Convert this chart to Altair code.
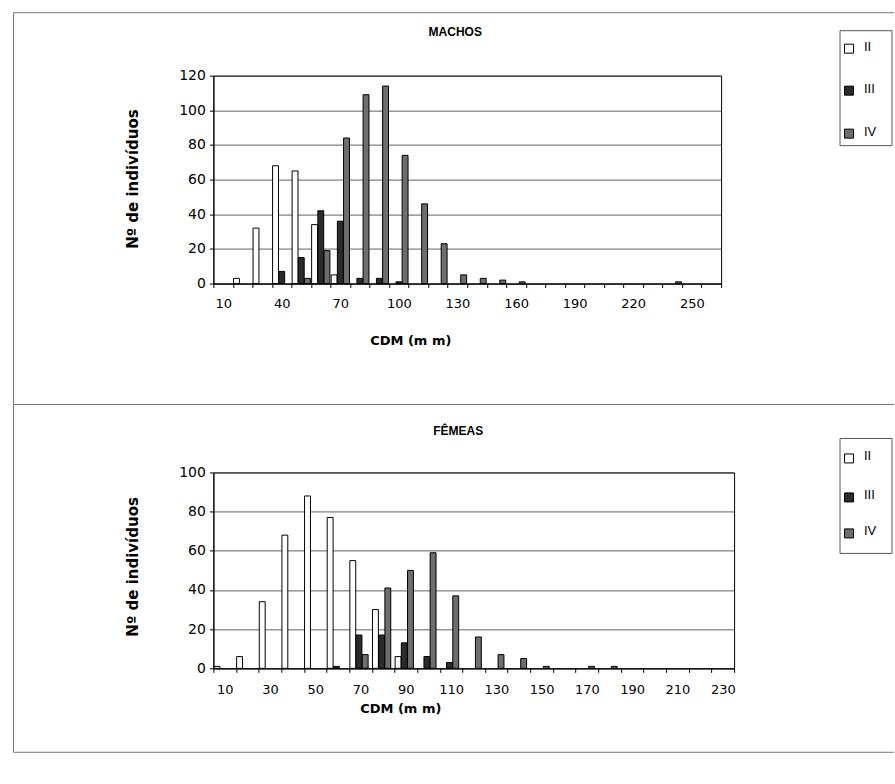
import altair as alt
import pandas as pd

# ---------------- data ----------------
STAGES = ["II", "III", "IV"]
STAGE_FILL = ["#ffffff", "#2b2b2b", "#6e6e6e"]

# MACHOS (males) - CDM classes 10..260 mm
m_cdm = [10, 20, 30, 40, 50, 60, 70, 80, 90, 100, 110, 120, 130,
         140, 150, 160, 170, 180, 190, 200, 210, 220, 230, 240, 250, 260]
m_II  = [0, 3, 32, 68, 65, 34, 5, 0, 0, 0, 0, 0, 0,
         0, 0, 0, 0, 0, 0, 0, 0, 0, 0, 0, 0, 0]
m_III = [0, 0, 0, 7, 15, 42, 36, 3, 3, 1, 0, 0, 0,
         0, 0, 0, 0, 0, 0, 0, 0, 0, 0, 0, 0, 0]
m_IV  = [0, 0, 0, 0, 3, 19, 84, 109, 114, 74, 46, 23, 5,
         3, 2, 1, 0, 0, 0, 0, 0, 0, 0, 1, 0, 0]

# FÊMEAS (females) - CDM classes 10..230 mm
f_cdm = [10, 20, 30, 40, 50, 60, 70, 80, 90, 100, 110, 120,
         130, 140, 150, 160, 170, 180, 190, 200, 210, 220, 230]
f_II  = [1, 6, 34, 68, 88, 77, 55, 30, 6, 0, 0, 0,
         0, 0, 0, 0, 0, 0, 0, 0, 0, 0, 0]
f_III = [0, 0, 0, 0, 0, 1, 17, 17, 13, 6, 3, 0,
         0, 0, 0, 0, 0, 0, 0, 0, 0, 0, 0]
f_IV  = [0, 0, 0, 0, 0, 0, 7, 41, 50, 59, 37, 16,
         7, 5, 1, 0, 1, 1, 0, 0, 0, 0, 0]

Y_TITLE = "Nº de indivíduos"
X_TITLE = "CDM (m m)"


def long_table(cdm, II, III, IV):
    rows = []
    for name, vals in zip(STAGES, [II, III, IV]):
        for c, v in zip(cdm, vals):
            if v > 0:
                rows.append({"cdm": c, "estagio": name, "n": v})
    return pd.DataFrame(rows)


one = alt.Data(values=[{"k": 1}])
BORDER = "#777777"


def hrule(x1, x2, y, color=BORDER):
    return alt.Chart(one).mark_rule(color=color, strokeWidth=1).encode(
        x=alt.value(x1), x2=alt.value(x2), y=alt.value(y))


def vrule(x, y1, y2, color=BORDER):
    return alt.Chart(one).mark_rule(color=color, strokeWidth=1).encode(
        x=alt.value(x), y=alt.value(y1), y2=alt.value(y2))


def text(x, y, s, size=12, bold=False, align="center", font="Liberation Sans"):
    return alt.Chart(one).mark_text(
        font=font, fontSize=size, fontWeight="bold" if bold else "normal",
        align=align, baseline="middle", color="black").encode(
        x=alt.value(x), y=alt.value(y), text=alt.value(s))


def box(x1, x2, y1, y2, fill, stroke="black"):
    return alt.Chart(one).mark_rect(fill=fill, stroke=stroke, strokeWidth=1).encode(
        x=alt.value(x1), x2=alt.value(x2), y=alt.value(y1), y2=alt.value(y2))


def panel(cdm, II, III, IV, width, height, ymax, label_every, title, title_xy,
          xtitle_xy, ytitle_xy, label_pad, legend_y, extra):
    df = long_table(cdm, II, III, IV)
    step = 10 * label_every
    bars = alt.Chart(df).mark_bar(stroke="black", strokeWidth=1).encode(
        x=alt.X("cdm:O", scale=alt.Scale(domain=cdm, paddingInner=0, paddingOuter=0),
                axis=alt.Axis(title=X_TITLE, labelAngle=0, tickBand="extent",
                              labelExpr=f"(datum.value - 10) % {step} == 0 ? datum.label : ''",
                              labelFont="DejaVu Sans", labelFontSize=13, labelColor="black",
                              labelPadding=label_pad, tickSize=4, tickColor="black",
                              domainColor="black", titleFont="DejaVu Sans",
                              titleFontSize=13, titleFontWeight="bold", titleColor="black",
                              titleX=xtitle_xy[0], titleY=xtitle_xy[1],
                              titleAlign="center", titleBaseline="middle")),
        xOffset=alt.XOffset("estagio:N", scale=alt.Scale(domain=STAGES, paddingInner=0.05,
                                                         paddingOuter=0.1)),
        y=alt.Y("n:Q", scale=alt.Scale(domain=[0, ymax], nice=False),
                axis=alt.Axis(title=Y_TITLE, values=list(range(0, ymax + 1, 20)),
                              labelFont="DejaVu Sans", labelFontSize=14, labelColor="black",
                              labelPadding=4, tickSize=4, tickColor="black",
                              domainColor="black", grid=True, gridColor="#3a3a3a",
                              gridWidth=0.8, titleFont="DejaVu Sans", titleFontSize=15,
                              titleFontWeight="bold", titleColor="black",
                              titleX=ytitle_xy[0], titleY=ytitle_xy[1], titleAngle=270,
                              titleAlign="center", titleBaseline="middle")),
        color=alt.Color("estagio:N", scale=alt.Scale(domain=STAGES, range=STAGE_FILL),
                        legend=None),
    )
    ly = legend_y
    layers = [
        bars,
        text(title_xy[0], title_xy[1], title, size=12, bold=True),
        box(627, 679, ly[0], ly[1], "white", stroke="#555555"),
    ]
    for i, (name, fill) in enumerate(zip(STAGES, STAGE_FILL)):
        cy = ly[2 + i]
        layers.append(box(631.5, 640.5, cy - 4.5, cy + 4.5, fill))
        layers.append(text(651, cy - 2, name, size=13, align="left"))
    layers += extra
    return alt.layer(*layers).properties(width=width, height=height)


top = panel(
    m_cdm, m_II, m_III, m_IV, width=508, height=208, ymax=120, label_every=3,
    title="MACHOS", title_xy=(242, -44), xtitle_xy=(197, 57), ytitle_xy=(-81, 103),
    label_pad=10, legend_y=(-45, 70, -27, 15, 58),
    extra=[hrule(-200, 681, -63), vrule(-200, -63, 329), hrule(-200, 681, 329)],
)

bottom = panel(
    f_cdm, f_II, f_III, f_IV, width=521, height=196, ymax=100, label_every=2,
    title="FÊMEAS", title_xy=(245, -41), xtitle_xy=(187, 40), ytitle_xy=(-81, 94),
    label_pad=11, legend_y=(-34, 81, -14, 25, 61),
    extra=[vrule(-200, -68, 280), hrule(-200, 681, 280)],
)

chart = alt.vconcat(top, bottom, spacing=189, bounds="flush").properties(
    padding={"left": 12.5, "top": 11.5, "right": 0, "bottom": 0},
    background="white",
).configure_view(stroke="black", strokeWidth=1)

chart.save("out.html", embed_options={"renderer": "svg", "actions": False})
